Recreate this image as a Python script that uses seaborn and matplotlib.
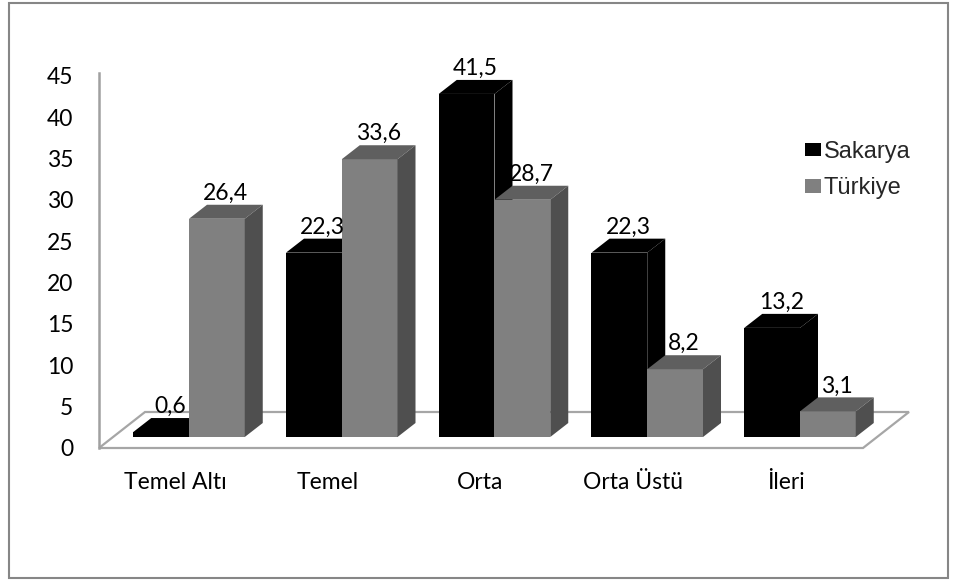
import numpy as np
import pandas as pd
import matplotlib
matplotlib.use("Agg")
import matplotlib.pyplot as plt
import matplotlib.transforms as mtransforms
from matplotlib.patches import Polygon, Rectangle, Patch
import seaborn as sns

categories = ["Temel Altı", "Temel", "Orta", "Orta Üstü", "İleri"]
series_names = ["Sakarya", "Türkiye"]
sakarya = [0.6, 22.3, 41.5, 22.3, 13.2]
turkiye = [26.4, 33.6, 28.7, 8.2, 3.1]
yticks = [0, 5, 10, 15, 20, 25, 30, 35, 40, 45]

df = pd.DataFrame({
    "Kategori": categories * 2,
    "Seri": [series_names[0]] * len(categories) + [series_names[1]] * len(categories),
    "Değer": sakarya + turkiye,
})

sns.set_theme(style="white")
plt.rcParams["font.family"] = ["Lato", "DejaVu Sans"]

W, H, DPI = 956, 581, 100
fig = plt.figure(figsize=(W / DPI, H / DPI), dpi=DPI)
fig.patch.set_facecolor("white")

ax_l, ax_r, ax_b, ax_t = 99, 910, 448, 76
ax = fig.add_axes([ax_l / W, (H - ax_b) / H, (ax_r - ax_l) / W, (ax_b - ax_t) / H])
ax.set_facecolor("none")

front = {"Sakarya": "#000000", "Türkiye": "#808080"}
top_c = {"Sakarya": "#000000", "Türkiye": "#5f5f5f"}
side_c = {"Sakarya": "#000000", "Türkiye": "#4f4f4f"}

sns.barplot(data=df, x="Kategori", y="Değer", hue="Seri", order=categories,
            hue_order=series_names, palette=front, width=0.73, saturation=1,
            legend=False, ax=ax, linewidth=0)

step = 152.75
first = 175
ax.set_xlim((ax_l - first) / step, (ax_r - first) / step)
ax.set_ylim(0, 45)

# pixel -> data scales
ppx = step
ppy = (ax_b - ax_t) / 45.0
ddx, ddy = 18 / ppx, 14 / ppy

# bars sit deeper in the 3D box: shifted right and up
shift = mtransforms.ScaledTranslation(14 / DPI, 11 / DPI, fig.dpi_scale_trans)
tr = ax.transData + shift

# floor
fdx, fdy = 46 / ppx, 36 / ppy
x0f = ax.get_xlim()[0]
x1f = (863 - first) / step
floor = Polygon([(x0f, 0), (x1f, 0), (x1f + fdx, fdy), (x0f + fdx, fdy)],
                closed=True, facecolor="white", edgecolor="#a6a6a6", lw=1.6,
                zorder=0.5, clip_on=False)
ax.add_patch(floor)

n = len(categories)
patches = [p for p in ax.patches if isinstance(p, Rectangle)][: 2 * n]
for k, p in enumerate(patches):
    s = series_names[k // n]
    z = 2 if s == "Sakarya" else 3
    p.set_transform(tr)
    p.set_zorder(z)
    p.set_clip_on(False)
    x0, w, h = p.get_x(), p.get_width(), p.get_height()
    x1 = x0 + w
    top = Polygon([(x0, h), (x1, h), (x1 + ddx, h + ddy), (x0 + ddx, h + ddy)],
                  closed=True, facecolor=top_c[s], edgecolor="none", transform=tr,
                  zorder=z, clip_on=False)
    side = Polygon([(x1, 0), (x1, h), (x1 + ddx, h + ddy), (x1 + ddx, ddy)],
                   closed=True, facecolor=side_c[s], edgecolor="none", transform=tr,
                   zorder=z, clip_on=False)
    ax.add_patch(top)
    ax.add_patch(side)
    lab = f"{h:.1f}".replace(".", ",")
    ax.text(x0 + w / 2 + ddx / 2, h + ddy, lab, ha="center", va="bottom",
            fontsize=16.5, color="black", zorder=5,
            transform=tr + mtransforms.ScaledTranslation(0, 1 / DPI, fig.dpi_scale_trans))

ax.set_yticks(yticks)
ax.set_yticklabels([str(v) for v in yticks])
ax.set_xlabel("")
ax.set_ylabel("")
ax.tick_params(axis="y", length=0, pad=18.5, labelsize=16.5, colors="black")
ax.tick_params(axis="x", length=0, pad=17, labelsize=16.5, colors="black")
for sp in ["top", "right", "bottom"]:
    ax.spines[sp].set_visible(False)
ax.spines["left"].set_color("#a0a0a0")
ax.spines["left"].set_linewidth(1.8)
ax.spines["left"].set_bounds(0, 45.4)

handles = [Patch(facecolor=front[s], edgecolor="none", label=s) for s in series_names]
leg = fig.legend(handles=handles, loc="upper left",
                 bbox_to_anchor=(805 / W, 1 - 141 / H), frameon=False,
                 prop={"family": "Liberation Sans", "size": 17},
                 handlelength=0.68, handleheight=0.5, handletextpad=0.12,
                 labelspacing=0.6, borderaxespad=0, borderpad=0)

border = Rectangle((9 / W, 3 / H), (948 - 9) / W, (578 - 3) / H, transform=fig.transFigure,
                   facecolor="none", edgecolor="#868686", lw=1.5)
fig.patches.append(border)

fig.savefig("out.png", dpi=DPI)
